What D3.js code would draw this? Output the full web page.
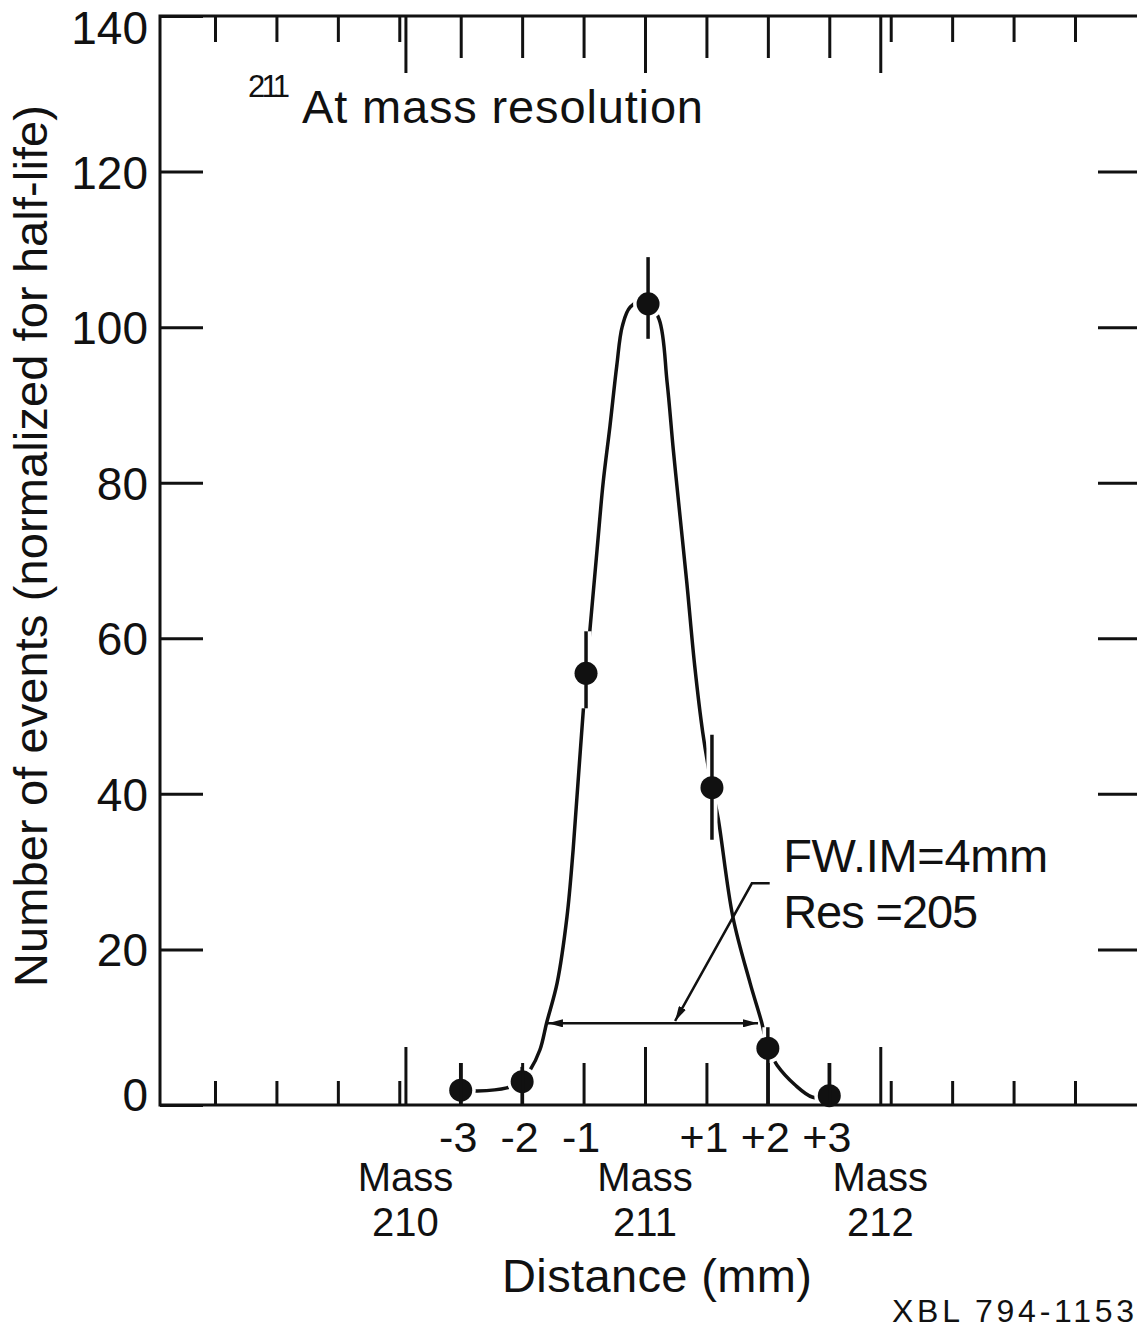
<!DOCTYPE html>
<html lang="en">
<head>
  <meta charset="UTF-8" />
  <title>211At mass resolution</title>
  <style>
    body { margin: 0; background: #fff; }
    svg { display: block; background: #fff; }
    text { font-family: "Liberation Sans", Arial, sans-serif; fill: #111; }
    .frame { stroke: #111; stroke-width: 3; fill: none; }
    .tick line { stroke: #111; stroke-width: 3; }
  </style>
  <script src="https://d3js.org/d3.v7.min.js"></script>
</head>
<body>
  <svg id="chart" width="1137" height="1334"></svg>
  <script>
    // measured points (distance in mm, events normalized for half-life)
    const distance = [-3, -2, -0.96, 0.05, 1.09, 2, 3];
    const events   = [1.9, 3.0, 55.5, 103, 40.8, 7.3, 1.2];
    const errLow   = [0, 0, 51, 98.5, 34.1, 0, 0];
    const errHigh  = [5.4, 4.9, 60.9, 109, 47.6, 10, 5.4];

    // hand drawn fit curve
    const curveX = [-3, -2.73, -2.25, -2.02, -1.87, -1.71, -1.6, -1.43, -1.27, -1.17, -0.96, -0.78, -0.68,
                    -0.57, -0.46, -0.37, -0.24, 0.02, 0.23, 0.36, 0.46, 0.57, 0.68, 0.81, 0.94, 1.09,
                    1.19, 1.43, 1.71, 1.9, 2.0, 2.15, 2.44, 2.73, 3.0];
    const curveY = [1.9, 1.8, 2.2, 3.0, 4.5, 7.1, 10.6, 15.7, 24.2, 32.8, 55.5, 71.4, 80.1,
                    87.3, 95.0, 100.1, 102.6, 103.5, 101.0, 92.9, 84.3, 75.7, 67.2, 56.4, 47.9, 40.8,
                    36.9, 24.2, 15.7, 10.6, 7.3, 5.1, 2.6, 1.0, 1.2];

    // axis ticks
    const yTicks = [0, 20, 40, 60, 80, 100, 120, 140];
    const xShort = [-7, -6, -5, -4, 4, 5, 6, 7];
    const xMedium = [-3, -2, -1, 1, 2, 3];
    const massPos = [-3.9, 0, 3.83];
    const massNames = ["210", "211", "212"];

    // FWHM annotation
    const fwhmX = [-1.58, 1.84];
    const fwhmY = 10.5;
    const leaderX = [2.03, 1.74, 0.49];
    const leaderY = [28.5, 28.5, 10.8];

    const svg = d3.select("#chart");
    const x = d3.scaleLinear().domain([-7, 7]).range([215, 1075]);
    const y = d3.scaleLinear().domain([0, 140]).range([1105, 16]);
    const frameLeft = 160, frameRight = 1137;

    // arrowhead
    svg.append("defs").append("marker")
      .attr("id", "arrow")
      .attr("markerUnits", "userSpaceOnUse")
      .attr("viewBox", "0 0 15 8")
      .attr("refX", 15)
      .attr("refY", 4)
      .attr("markerWidth", 15)
      .attr("markerHeight", 8)
      .attr("orient", "auto-start-reverse")
      .append("path")
      .attr("d", "M0,0L15,4L0,8Z")
      .attr("fill", "#111");

    // fit curve
    const curvePts = curveX.map((v, i) => [v, curveY[i]]);
    const line = d3.line()
      .x(d => x(d[0]))
      .y(d => y(d[1]))
      .curve(d3.curveCatmullRom.alpha(0.5));
    svg.append("path")
      .attr("d", line(curvePts))
      .attr("fill", "none")
      .attr("stroke", "#111")
      .attr("stroke-width", 3.5);

    const pts = distance.map((d, i) => ({ x: d, v: events[i], lo: errLow[i], hi: errHigh[i] }));

    // white gaps where the curve meets bars and dots
    svg.append("g").selectAll("line").data(pts).join("line")
      .attr("x1", d => x(d.x)).attr("x2", d => x(d.x))
      .attr("y1", d => y(d.lo)).attr("y2", d => y(d.hi))
      .attr("stroke", "#fff").attr("stroke-width", 11);
    svg.append("g").selectAll("circle").data(pts).join("circle")
      .attr("cx", d => x(d.x)).attr("cy", d => y(d.v)).attr("r", 15)
      .attr("fill", "#fff");

    // error bars and points
    svg.append("g").selectAll("line").data(pts).join("line")
      .attr("x1", d => x(d.x)).attr("x2", d => x(d.x))
      .attr("y1", d => y(d.lo)).attr("y2", d => y(d.hi))
      .attr("stroke", "#111").attr("stroke-width", 3.5);
    svg.append("g").selectAll("circle").data(pts).join("circle")
      .attr("cx", d => x(d.x)).attr("cy", d => y(d.v)).attr("r", 11.5)
      .attr("fill", "#111");

    // frame
    svg.append("path")
      .attr("class", "frame")
      .attr("d", `M${frameRight},${y(140)}H${frameLeft}V${y(0)}H${frameRight}`);

    function xTicks(axis, ypos, vals, size) {
      svg.append("g")
        .attr("transform", `translate(0,${ypos})`)
        .call(axis(x).tickValues(vals).tickSize(size).tickFormat(""))
        .call(g => g.select(".domain").remove());
    }
    // top ticks
    xTicks(d3.axisBottom, y(140), xShort, 26);
    xTicks(d3.axisBottom, y(140), xMedium, 42);
    xTicks(d3.axisBottom, y(140), massPos, 57);
    // bottom ticks
    xTicks(d3.axisTop, y(0), xShort, 24);
    xTicks(d3.axisTop, y(0), xMedium, 42);
    xTicks(d3.axisTop, y(0), massPos, 58);

    // left axis with labels
    svg.append("g")
      .attr("transform", `translate(${frameLeft},0)`)
      .call(d3.axisLeft(y).tickValues(yTicks).tickSizeInner(-43).tickSizeOuter(0).tickPadding(12))
      .call(g => g.select(".domain").remove())
      .attr("font-family", null)
      .attr("font-size", 46)
      .selectAll("text")
      .attr("dy", d => d === 140 ? "27px" : d === 0 ? "5px" : "0.36em");

    // right ticks
    svg.append("g")
      .attr("transform", `translate(${frameRight},0)`)
      .call(d3.axisLeft(y).tickValues(yTicks.slice(1, -1)).tickSize(39).tickFormat(""))
      .call(g => g.select(".domain").remove());

    // bottom tick labels
    svg.append("g")
      .attr("transform", `translate(-3,${y(0)})`)
      .call(d3.axisBottom(x).tickValues(xMedium).tickSize(0).tickPadding(16)
        .tickFormat(d => (d > 0 ? "+" : "-") + Math.abs(d)))
      .call(g => g.select(".domain").remove())
      .attr("font-family", null)
      .attr("font-size", 43);

    // mass labels
    const massG = svg.append("g").attr("font-size", 40).attr("text-anchor", "middle");
    massPos.forEach((m, i) => {
      massG.append("text").attr("x", x(m)).attr("y", 1191).text("Mass");
      massG.append("text").attr("x", x(m)).attr("y", 1236).text(massNames[i]);
    });

    svg.append("text")
      .attr("x", 657).attr("y", 1292)
      .attr("text-anchor", "middle")
      .attr("font-size", 47)
      .attr("textLength", 310)
      .text("Distance (mm)");

    svg.append("text")
      .attr("x", 892).attr("y", 1322)
      .attr("font-size", 32)
      .attr("textLength", 242)
      .attr("lengthAdjust", "spacing")
      .text("XBL 794-1153");

    svg.append("text")
      .attr("transform", "translate(47,546) rotate(-90)")
      .attr("text-anchor", "middle")
      .attr("font-size", 47)
      .attr("textLength", 882)
      .text("Number of events (normalized for half-life)");

    // title
    svg.append("text")
      .attr("x", 248).attr("y", 97)
      .attr("font-size", 31)
      .attr("textLength", 42)
      .text("211");
    svg.append("text")
      .attr("x", 302).attr("y", 123)
      .attr("font-size", 47)
      .attr("textLength", 401)
      .text("At mass resolution");

    // FWHM annotation
    svg.append("line")
      .attr("x1", x(fwhmX[0])).attr("x2", x(fwhmX[1]))
      .attr("y1", y(fwhmY)).attr("y2", y(fwhmY))
      .attr("stroke", "#111").attr("stroke-width", 2.5)
      .attr("marker-start", "url(#arrow)")
      .attr("marker-end", "url(#arrow)");
    const leader = leaderX.map((v, i) => [v, leaderY[i]]);
    svg.append("path")
      .attr("d", d3.line().x(d => x(d[0])).y(d => y(d[1]))(leader))
      .attr("fill", "none")
      .attr("stroke", "#111").attr("stroke-width", 2.5)
      .attr("marker-end", "url(#arrow)");

    svg.append("text")
      .attr("x", x(2.25)).attr("y", y(30))
      .attr("font-size", 47)
      .attr("textLength", 265)
      .text("FW.IM=4mm");
    svg.append("text")
      .attr("x", x(2.25)).attr("y", y(22.75))
      .attr("font-size", 47)
      .attr("textLength", 195)
      .text("Res =205");
  </script>
</body>
</html>
